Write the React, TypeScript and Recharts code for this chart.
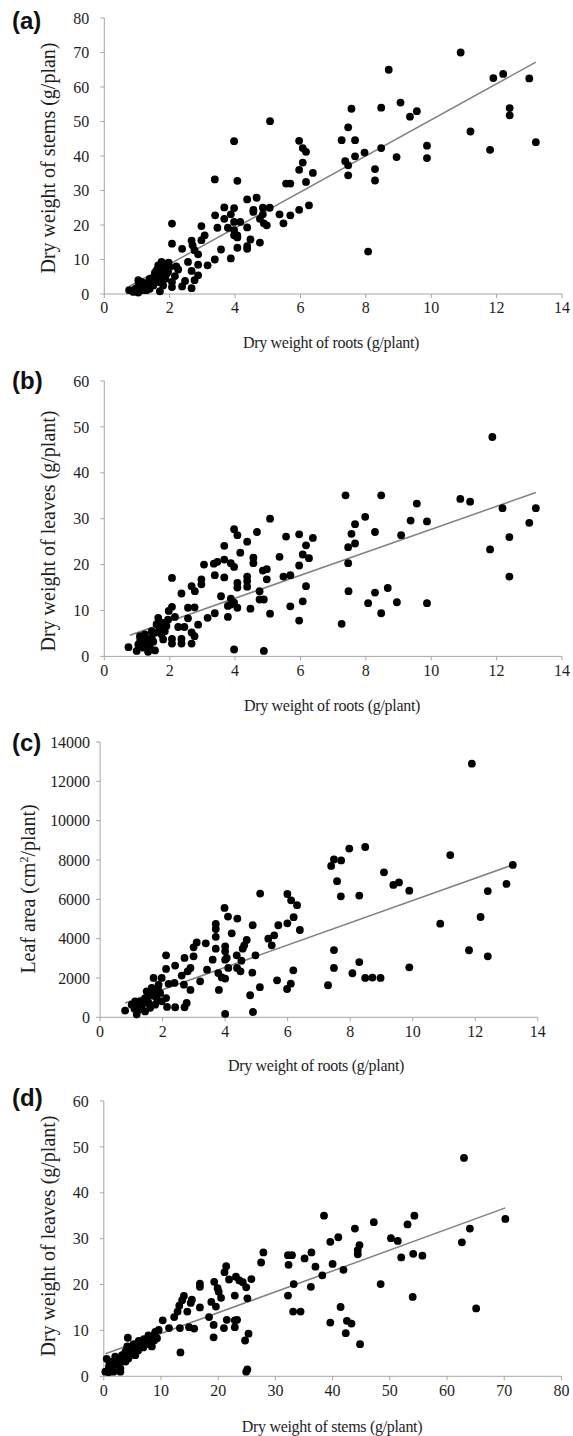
import React from "react"
import { ScatterChart, Scatter, XAxis, YAxis } from "recharts"

// (a) roots vs stems
const rootsStems: [number, number][] = [
  [10.9, 70], [8.7, 65], [11.9, 62.6], [12.2, 63.8], [13.0, 62.5], [12.4, 53.9], [12.4, 51.8], [13.2, 44],
  [11.2, 47.1], [11.8, 41.8], [7.56, 53.7], [8.47, 54.0], [9.06, 55.5], [9.35, 51.4], [9.56, 53.0],
  [9.87, 43.0], [9.87, 39.4], [8.94, 39.7], [8.47, 42.3], [8.28, 36.2], [8.28, 32.9], [7.96, 41.0],
  [7.67, 39.9], [7.67, 44.6], [7.46, 48.3], [7.26, 44.6], [7.37, 38.5], [7.46, 37.3], [7.46, 34.4],
  [8.07, 12.3], [5.07, 50.1], [3.97, 44.3], [5.96, 44.4], [6.07, 42.3], [6.17, 41.2], [6.07, 38.1],
  [5.96, 36.0], [6.38, 35.1], [6.17, 32.5], [5.56, 32.0], [5.69, 32.0], [3.38, 33.2], [4.07, 32.8],
  [5.96, 24.4], [6.26, 25.7], [5.36, 23.1], [5.69, 22.8], [5.48, 20.5], [5.06, 25.0], [4.85, 25.0],
  [4.66, 27.9], [4.37, 27.4], [4.56, 24.4], [4.56, 23.8], [4.85, 23.1], [4.76, 21.8], [4.88, 20.5],
  [4.97, 19.9], [4.76, 14.9], [4.37, 19.3], [4.37, 13.9], [4.37, 13.1], [4.47, 15.8], [4.07, 13.4],
  [4.07, 16.4], [3.97, 24.9], [3.67, 25.1], [3.39, 22.8], [3.67, 21.8], [3.87, 23.1], [3.97, 20.9],
  [4.16, 20.9], [3.78, 19.2], [3.46, 19.2], [3.97, 18.5], [3.97, 17.0], [4.07, 17.0], [3.57, 12.9],
  [3.87, 10.3], [3.38, 10.0], [3.16, 8.3], [2.97, 19.7], [3.07, 17.0], [2.97, 15.6], [2.67, 15.5],
  [2.7, 14.1], [2.76, 12.7], [2.87, 11.5], [2.38, 13.1], [2.07, 20.4], [2.07, 14.6], [2.56, 9.3],
  [2.87, 8.5], [2.67, 6.7], [2.87, 5.4], [2.76, 4.0], [2.47, 3.8], [2.38, 2.2], [2.67, 1.7], [2.26, 7.1],
  [2.16, 5.2], [2.07, 3.5], [2.07, 2.0], [1.97, 9.1], [0.76, 1.1], [1.04, 4.0], [1.04, 2.5], [1.04, 0.4],
  [1.14, 3.5], [1.24, 2.0], [1.34, 3.5], [1.39, 1.5], [1.5, 4.0], [1.55, 5.4], [1.6, 6.9], [1.65, 8.3],
  [1.7, 6.4], [1.7, 3.5], [1.7, 0.8], [1.75, 7.3], [1.8, 5.4], [1.85, 7.3], [1.87, 4.4], [1.95, 6.4],
  [1.5, 2.5], [1.29, 1.1], [0.94, 1.5], [0.89, 0.6], [1.39, 4.4], [1.6, 3.5], [1.75, 9.3], [1.9, 8.8],
  [1.19, 1.1], [1.45, 3.0], [1.65, 5.0], [1.8, 2.5], [1.9, 5.8], [2.0, 7.8], [1.2, 3.0], [1.55, 6.2],
  [1.68, 7.6], [1.35, 2.6], [2.2, 8.0],
]
const trendStems: [number, number][] = [[0.76, 2.2], [13.2, 67.2]]

// (b) roots vs leaves
const rootsLeaves: [number, number][] = [
  [11.87, 47.8], [7.38, 35.1], [8.47, 35.1], [10.89, 34.3], [11.19, 33.7], [12.18, 32.3], [13.2, 32.3],
  [13.0, 29.1], [12.39, 26.0], [11.8, 23.3], [12.39, 17.4], [9.56, 33.3], [9.37, 29.6], [9.87, 29.4],
  [9.08, 26.4], [8.28, 27.1], [7.98, 30.4], [7.67, 28.8], [7.56, 26.7], [7.46, 23.8], [7.67, 24.6],
  [7.46, 20.3], [7.47, 14.2], [8.28, 13.9], [8.67, 14.9], [8.07, 11.6], [8.47, 9.4], [8.95, 11.8],
  [9.87, 11.6], [7.26, 7.1], [5.07, 30.0], [4.67, 27.1], [4.37, 25.0], [3.97, 27.7], [4.07, 26.4],
  [4.16, 22.6], [3.67, 24.1], [5.56, 26.1], [5.96, 26.6], [6.38, 25.8], [6.17, 24.2], [6.07, 22.2],
  [6.26, 21.4], [5.36, 21.7], [4.56, 21.5], [4.56, 20.3], [4.97, 19.0], [4.85, 18.7], [4.97, 16.8],
  [5.96, 19.8], [5.48, 17.4], [5.69, 17.7], [4.37, 17.4], [4.37, 16.4], [4.37, 15.2], [4.07, 16.0],
  [4.07, 15.0], [3.97, 19.5], [3.87, 20.3], [3.67, 21.1], [3.46, 20.6], [3.35, 20.2], [3.05, 20.0],
  [3.38, 17.7], [3.67, 17.2], [2.97, 16.8], [2.97, 15.7], [2.67, 15.3], [2.77, 14.2], [2.36, 13.7],
  [2.07, 17.1], [3.57, 13.1], [3.87, 12.6], [3.97, 11.7], [3.87, 11.3], [3.78, 11.0], [4.07, 10.6],
  [3.78, 8.6], [3.38, 9.4], [3.16, 8.4], [4.47, 10.4], [4.75, 14.2], [4.75, 12.4], [4.88, 12.4],
  [5.07, 9.3], [5.69, 10.9], [5.96, 7.8], [6.07, 12.0], [6.17, 15.3], [3.97, 1.5], [4.88, 1.2],
  [2.76, 10.7], [2.87, 6.9], [2.56, 10.6], [2.56, 8.3], [2.45, 6.4], [2.67, 5.2], [2.76, 4.4], [2.67, 2.8],
  [2.36, 3.8], [2.36, 2.8], [2.07, 3.8], [2.07, 2.8], [2.16, 8.6], [2.07, 10.8], [1.97, 9.9], [2.26, 6.4],
  [0.74, 2.0], [0.99, 1.2], [1.04, 2.6], [1.09, 4.4], [1.14, 3.3], [1.24, 4.8], [1.29, 3.7], [1.34, 1.0],
  [1.39, 2.2], [1.45, 4.1], [1.55, 1.3], [1.57, 5.2], [1.65, 8.4], [1.7, 6.2], [1.75, 4.8], [1.8, 7.3],
  [1.85, 5.5], [1.9, 6.6], [1.8, 3.7], [1.6, 7.0], [1.19, 1.9], [1.45, 5.5], [1.3, 2.8], [1.5, 3.2],
  [1.7, 5.6], [1.95, 8.0], [1.1, 3.6],
]
const trendLeavesRoots: [number, number][] = [[0.78, 4.6], [13.2, 35.7]]

// (c) roots vs leaf area
const rootsArea: [number, number][] = [
  [11.89, 12900], [8.48, 8660], [7.97, 8580], [11.2, 8250], [7.71, 7980], [7.48, 8030], [7.39, 7700],
  [9.08, 7370], [9.38, 6730], [9.56, 6860], [9.89, 6440], [7.58, 6920], [7.7, 6150], [8.29, 6190],
  [12.4, 6420], [13.2, 7750], [13.0, 6780], [12.17, 5100], [10.88, 4760], [11.8, 3410], [12.4, 3100],
  [7.48, 3420], [7.48, 2510], [8.29, 2810], [8.07, 2240], [8.48, 2000], [8.71, 2020], [8.97, 2000],
  [9.89, 2540], [7.29, 1630], [5.12, 6290], [5.99, 6270], [6.11, 5950], [6.3, 5700], [6.19, 5090],
  [5.99, 4780], [6.39, 4440], [5.7, 4680], [5.57, 4170], [5.38, 4000], [5.49, 3660], [4.88, 4680],
  [4.69, 3930], [4.97, 3150], [4.61, 3660], [4.56, 3490], [4.37, 3150], [4.52, 2880], [4.87, 2270],
  [5.11, 1530], [3.98, 5560], [4.09, 5120], [4.39, 5020], [4.21, 4270], [3.7, 4750], [3.7, 4490],
  [3.7, 4090], [3.7, 3490], [3.38, 3760], [3.09, 3810], [2.99, 3560], [2.99, 3100], [2.7, 3020],
  [2.4, 2630], [2.11, 3150], [2.11, 2460], [2.89, 2510], [2.8, 2340], [2.61, 2120], [4.0, 3610],
  [4.0, 3360], [4.05, 3020], [4.0, 2930], [3.6, 2930], [3.42, 2420], [3.2, 1830], [4.1, 2510],
  [3.78, 2250], [3.89, 2030], [4.0, 1970], [3.8, 1390], [4.38, 2510], [4.49, 2340], [4.8, 1120],
  [4.89, 270], [4.0, 170], [5.66, 1880], [5.98, 1440], [6.1, 1710], [6.18, 2390], [2.89, 1390],
  [2.77, 730], [2.7, 510], [2.4, 510], [2.68, 1660], [2.38, 1750], [2.19, 1700], [2.11, 980], [2.14, 530],
  [1.97, 2000], [1.71, 2000], [0.8, 340], [1.12, 810], [1.1, 440], [1.17, 140], [1.28, 810], [1.33, 560],
  [1.44, 980], [1.44, 300], [1.55, 730], [1.6, 1150], [1.65, 1490], [1.76, 1410], [1.81, 980],
  [1.87, 1660], [1.92, 1240], [1.97, 810], [1.6, 480], [1.23, 390], [1.76, 640], [1.49, 1320], [1.01, 640],
  [1.35, 700], [1.7, 1100], [1.85, 1450], [1.5, 900], [1.25, 600],
]
const trendArea: [number, number][] = [[0.8, 730], [13.2, 7750]]

// (d) stems vs leaves
const stemsLeaves: [number, number][] = [
  [62.97, 47.6], [70.2, 34.3], [64.0, 32.2], [62.6, 29.2], [65.1, 14.8], [38.5, 35.0], [47.2, 33.6],
  [54.3, 35.0], [53.1, 33.1], [43.9, 32.2], [41.0, 30.3], [39.6, 29.3], [50.2, 30.1], [51.4, 29.5],
  [44.7, 28.6], [44.4, 27.5], [44.4, 26.6], [54.1, 26.7], [55.7, 26.3], [52.0, 25.9], [40.0, 24.5],
  [41.9, 23.2], [38.2, 22.0], [37.0, 23.9], [36.3, 27.0], [35.1, 25.7], [32.9, 26.4], [32.2, 26.4],
  [32.3, 24.3], [33.2, 20.1], [32.2, 17.6], [36.2, 19.5], [48.4, 20.1], [54.0, 17.3], [33.1, 14.1],
  [34.4, 14.1], [41.4, 15.1], [39.6, 11.7], [42.5, 12.1], [43.3, 11.5], [42.3, 9.4], [44.8, 7.0],
  [27.9, 27.0], [27.5, 24.8], [21.4, 24.0], [21.1, 22.7], [21.9, 21.1], [23.1, 21.7], [23.7, 20.9],
  [24.3, 20.5], [24.9, 19.4], [25.8, 21.2], [25.1, 17.0], [22.9, 17.6], [19.3, 20.6], [19.9, 19.2],
  [20.1, 18.4], [20.5, 17.1], [18.8, 16.2], [19.6, 15.2], [16.8, 20.2], [16.8, 19.5], [16.8, 15.0],
  [15.4, 16.7], [15.2, 16.0], [14.0, 17.5], [13.7, 16.6], [13.2, 15.4], [12.9, 14.1], [12.3, 12.9],
  [14.6, 14.1], [14.9, 10.7], [15.8, 10.4], [13.3, 10.5], [18.4, 12.9], [19.2, 11.2], [19.2, 8.5],
  [21.0, 10.5], [21.5, 12.3], [22.9, 12.2], [23.3, 12.3], [22.9, 10.7], [25.3, 9.3], [24.7, 7.8],
  [25.1, 1.5], [24.9, 1.0], [13.4, 5.2], [11.4, 10.5], [10.3, 12.2], [0.27, 1.0], [0.5, 3.8], [0.9, 2.1],
  [1.4, 3.2], [1.7, 1.0], [2.0, 4.3], [2.3, 2.5], [2.9, 1.7], [3.2, 4.6], [3.5, 3.9], [3.8, 5.4],
  [4.1, 6.5], [4.2, 8.4], [4.6, 4.6], [4.9, 6.1], [5.2, 7.0], [5.5, 5.7], [5.8, 6.8], [6.1, 7.7],
  [6.4, 6.5], [6.7, 7.2], [7.0, 8.1], [7.3, 7.0], [7.6, 7.9], [7.8, 8.9], [8.1, 7.6], [8.4, 6.5],
  [8.7, 8.9], [9.0, 9.7], [9.3, 8.3], [9.6, 10.1], [3.8, 3.2], [4.3, 3.9], [2.6, 2.8], [0.85, 0.9],
  [5.5, 4.6], [2.9, 1.0], [1.2, 1.8], [2.5, 3.6], [3.0, 3.2], [4.0, 4.6], [5.0, 5.2], [6.0, 5.6],
  [6.9, 6.3], [7.9, 7.0], [8.8, 7.8], [1.0, 2.8],
]
const trendLeavesStems: [number, number][] = [[0.3, 4.9], [70.2, 36.7]]

const rootTicks = [0, 2, 4, 6, 8, 10, 12, 14]
const stemTicks = [0, 10, 20, 30, 40, 50, 60, 70, 80]
const leafTicks = [0, 10, 20, 30, 40, 50, 60]
const areaTicks = [0, 2000, 4000, 6000, 8000, 10000, 12000, 14000]

const toPts = (arr: [number, number][]) => arr.map(([x, y]) => ({ x, y }))

const AXIS = "#a6a6a6"
const SERIF = "'Liberation Serif', 'Times New Roman', serif"
const tickStyle = { fill: "#1e1e1e", fontSize: 16, fontFamily: SERIF }

const Dot = (p: any) => <circle cx={p.cx} cy={p.cy} r={3.9} fill="#000" />
const NoDot = () => <g />

interface PanelProps {
  top: number
  plotLeft: number
  plotRight: number
  plotHeight: number
  xDomain: [number, number]
  xTicks: number[]
  yDomain: [number, number]
  yTicks: number[]
  points: [number, number][]
  trend: [number, number][]
  yTickMargin: number
}

function Panel(p: PanelProps) {
  const padTop = 12
  const xAxisH = 40
  const height = p.plotHeight + padTop + xAxisH
  return (
    <div style={{ position: "absolute", left: 0, top: p.top - padTop }}>
      <ScatterChart
        width={573}
        height={height}
        margin={{ top: padTop, right: 573 - p.plotRight, bottom: 0, left: 0 }}
      >
        <XAxis
          type="number"
          dataKey="x"
          domain={p.xDomain}
          ticks={p.xTicks}
          interval={0}
          height={xAxisH}
          tickSize={4}
          tickMargin={4}
          axisLine={{ stroke: AXIS }}
          tickLine={{ stroke: AXIS }}
          tick={tickStyle}
        />
        <YAxis
          type="number"
          dataKey="y"
          domain={p.yDomain}
          ticks={p.yTicks}
          interval={0}
          width={p.plotLeft}
          tickSize={4}
          tickMargin={p.yTickMargin}
          axisLine={{ stroke: AXIS }}
          tickLine={{ stroke: AXIS }}
          tick={tickStyle}
        />
        <Scatter
          data={toPts(p.trend)}
          line={{ stroke: "#808080", strokeWidth: 1.5 }}
          shape={NoDot}
          isAnimationActive={false}
        />
        <Scatter data={toPts(p.points)} shape={Dot} isAnimationActive={false} />
      </ScatterChart>
    </div>
  )
}

function YTitle({ x, y, text }: { x: number; y: number; text: React.ReactNode }) {
  return (
    <div
      style={{
        position: "absolute",
        left: x,
        top: y,
        transform: "translate(-50%, -50%) rotate(-90deg)",
        whiteSpace: "nowrap",
        fontFamily: SERIF,
        fontSize: 20,
        color: "#1e1e1e",
      }}
    >
      {text}
    </div>
  )
}

function XTitle({ x, y, text }: { x: number; y: number; text: string }) {
  return (
    <div
      style={{
        position: "absolute",
        left: x,
        top: y,
        transform: "translate(-50%, -50%)",
        whiteSpace: "nowrap",
        fontFamily: SERIF,
        fontSize: 16,
        letterSpacing: -0.3,
        color: "#1e1e1e",
      }}
    >
      {text}
    </div>
  )
}

function Tag({ x, y, text }: { x: number; y: number; text: string }) {
  return (
    <div
      style={{
        position: "absolute",
        left: x,
        top: y,
        transform: "translateY(-50%)",
        fontFamily: "'Liberation Sans', Arial, sans-serif",
        fontWeight: 700,
        fontSize: 24,
        color: "#111",
      }}
    >
      {text}
    </div>
  )
}

export default function App() {
  return (
    <div style={{ position: "absolute", left: 0, top: 0, width: 573, height: 1436, background: "#fff" }}>
      <Panel
        top={17.7}
        plotLeft={104.3}
        plotRight={562}
        plotHeight={276}
        xDomain={[0, 14]}
        xTicks={rootTicks}
        yDomain={[0, 80]}
        yTicks={stemTicks}
        points={rootsStems}
        trend={trendStems}
        yTickMargin={11}
      />
      <Tag x={12} y={21} text="(a)" />
      <YTitle x={48} y={158} text="Dry weight of stems (g/plan)" />
      <XTitle x={331} y={343} text="Dry weight of roots (g/plant)" />

      <Panel
        top={381.3}
        plotLeft={104.3}
        plotRight={562}
        plotHeight={275.4}
        xDomain={[0, 14]}
        xTicks={rootTicks}
        yDomain={[0, 60]}
        yTicks={leafTicks}
        points={rootsLeaves}
        trend={trendLeavesRoots}
        yTickMargin={11}
      />
      <Tag x={12} y={381} text="(b)" />
      <YTitle x={48} y={531} text="Dry weight of leaves (g/plant)" />
      <XTitle x={332} y={706} text="Dry weight of roots (g/plant)" />

      <Panel
        top={742}
        plotLeft={100.1}
        plotRight={537.8}
        plotHeight={275.3}
        xDomain={[0, 14]}
        xTicks={rootTicks}
        yDomain={[0, 14000]}
        yTicks={areaTicks}
        points={rootsArea}
        trend={trendArea}
        yTickMargin={6}
      />
      <Tag x={12} y={743} text="(c)" />
      <YTitle
        x={28}
        y={889}
        text={
          <span>
            Leaf area (cm<sup style={{ fontSize: 12 }}>2</sup>/plant)
          </span>
        }
      />
      <XTitle x={316} y={1066} text="Dry weight of roots (g/plant)" />

      <Panel
        top={1100.7}
        plotLeft={103.8}
        plotRight={561.4}
        plotHeight={275.3}
        xDomain={[0, 80]}
        xTicks={stemTicks}
        yDomain={[0, 60]}
        yTicks={leafTicks}
        points={stemsLeaves}
        trend={trendLeavesStems}
        yTickMargin={11}
      />
      <Tag x={12} y={1098} text="(d)" />
      <YTitle x={48} y={1236} text="Dry weight of leaves (g/plant)" />
      <XTitle x={332} y={1427} text="Dry weight of stems (g/plant)" />
    </div>
  )
}
